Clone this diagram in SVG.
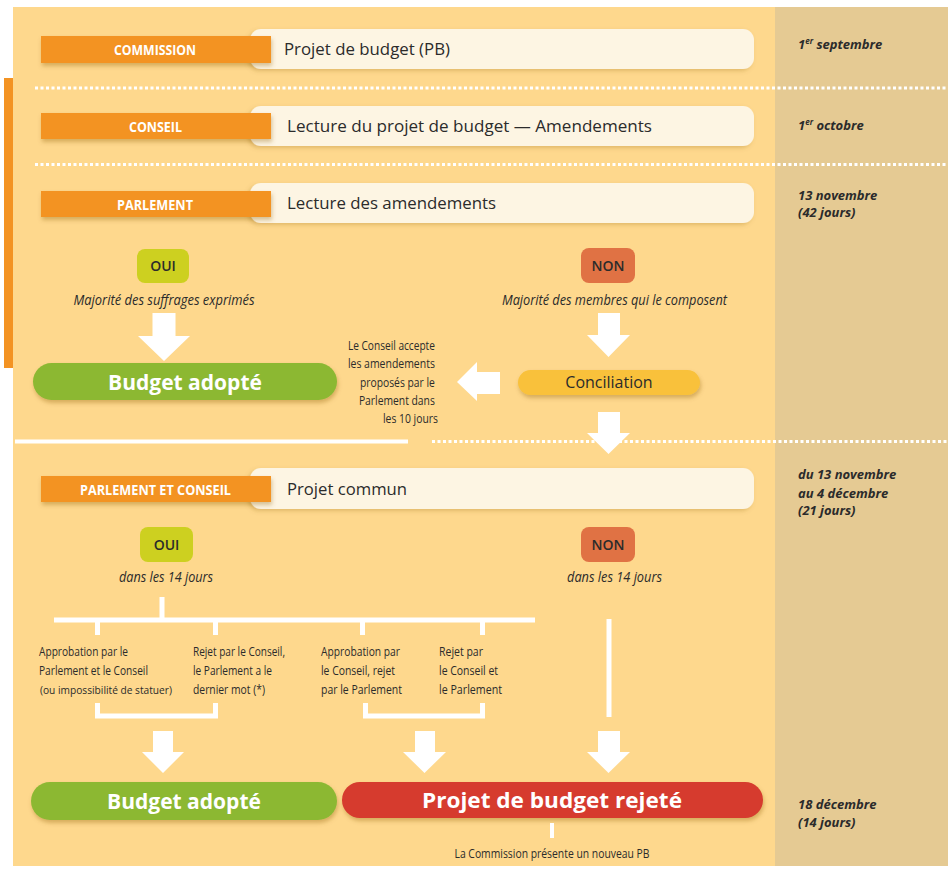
<svg xmlns="http://www.w3.org/2000/svg" width="948" height="870" viewBox="0 0 948 870">
<defs>
<filter id="sh" x="-10%" y="-30%" width="120%" height="180%">
<feDropShadow dx="1" dy="3" stdDeviation="2.2" flood-color="#8a5a10" flood-opacity="0.35"/>
</filter>
<filter id="sh2" x="-10%" y="-30%" width="120%" height="180%">
<feDropShadow dx="-2" dy="2" stdDeviation="2" flood-color="#8a5a10" flood-opacity="0.25"/>
</filter>
</defs>
<style>
.lab{fill:#F39323;filter:url(#sh)}
.labt{font-family:"Open Sans","Liberation Sans",sans-serif;font-weight:bold;font-size:15px;fill:#fff;text-anchor:middle}
.cream{fill:#FDF5E3;filter:url(#sh2)}
.ct{font-family:"Open Sans","Liberation Sans",sans-serif;font-size:16px;fill:#2b2b2b}
.date{font-family:"Open Sans","Liberation Sans",sans-serif;font-weight:bold;font-style:italic;font-size:13px;fill:#2b2b2b}
.note{font-family:"Open Sans","Liberation Sans",sans-serif;font-style:italic;font-size:14px;fill:#2b2b2b;text-anchor:middle}
.small{font-family:"Open Sans","Liberation Sans",sans-serif;font-size:12px;fill:#2b2b2b}
.yn{font-family:"Open Sans","Liberation Sans",sans-serif;font-size:14px;font-weight:600;fill:#2b2b2b;text-anchor:middle}
.big{font-family:"Open Sans","Liberation Sans",sans-serif;font-weight:bold;font-size:21px;fill:#fff;text-anchor:middle}
.dot{stroke:#fff;stroke-width:3;stroke-dasharray:3 2.5;fill:none}
.ln{stroke:#fff;stroke-width:5;fill:none}
.arr{fill:#fff}
.oui{fill:#CDD020}
.non{fill:#E07244}
</style>

<!-- background -->
<rect x="0" y="0" width="948" height="870" fill="#fff"/>
<rect x="13" y="7" width="762" height="859" fill="#FED88D"/>
<rect x="775" y="7" width="173" height="859" fill="#E5CA93"/>
<rect x="4" y="78" width="9" height="290" fill="#F39323"/>

<!-- separators -->
<g id="separators">
<line class="dot" x1="35" y1="88" x2="948" y2="88"/>
<line class="dot" x1="35" y1="164.5" x2="948" y2="164.5"/>
<line x1="15" y1="441.5" x2="408" y2="441.5" stroke="#fff" stroke-width="4"/>
<line class="dot" x1="432" y1="441.5" x2="948" y2="441.5"/>
</g>

<!-- rows -->
<g id="row-commission">
<rect class="cream" x="250" y="29" width="504" height="40" rx="11"/>
<rect class="lab" x="41" y="36" width="230" height="27"/>
<text class="labt" x="155" y="55" textLength="82" lengthAdjust="spacingAndGlyphs">COMMISSION</text>
<text class="ct" x="284" y="55" textLength="166" lengthAdjust="spacingAndGlyphs">Projet de budget (PB)</text>
</g>
<g id="row-conseil">
<rect class="cream" x="250" y="106" width="504" height="40" rx="11"/>
<rect class="lab" x="41" y="113" width="230" height="26"/>
<text class="labt" x="155.5" y="131.5" textLength="53" lengthAdjust="spacingAndGlyphs">CONSEIL</text>
<text class="ct" x="287" y="132" textLength="365" lengthAdjust="spacingAndGlyphs">Lecture du projet de budget — Amendements</text>
</g>
<g id="row-parlement">
<rect class="cream" x="250" y="183" width="504" height="40" rx="11"/>
<rect class="lab" x="41" y="191" width="230" height="26"/>
<text class="labt" x="155" y="209.5" textLength="76" lengthAdjust="spacingAndGlyphs">PARLEMENT</text>
<text class="ct" x="287" y="209" textLength="209" lengthAdjust="spacingAndGlyphs">Lecture des amendements</text>
</g>
<g id="row-parlement-conseil">
<rect class="cream" x="250" y="468" width="504" height="41" rx="11"/>
<rect class="lab" x="41" y="476" width="230" height="26"/>
<text class="labt" x="155.5" y="494.5" textLength="151" lengthAdjust="spacingAndGlyphs">PARLEMENT ET CONSEIL</text>
<text class="ct" x="287" y="495" textLength="120" lengthAdjust="spacingAndGlyphs">Projet commun</text>
</g>

<!-- dates -->
<g id="dates">
<text class="date" x="798" y="49">1<tspan font-size="8" dy="-5">er</tspan><tspan dy="5"> septembre</tspan></text>
<text class="date" x="798" y="130">1<tspan font-size="8" dy="-5">er</tspan><tspan dy="5"> octobre</tspan></text>
<text class="date" x="798" y="200">13 novembre</text>
<text class="date" x="798" y="217">(42 jours)</text>
<text class="date" x="798" y="479">du 13 novembre</text>
<text class="date" x="798" y="498">au 4 décembre</text>
<text class="date" x="798" y="515">(21 jours)</text>
<text class="date" x="798" y="809">18 décembre</text>
<text class="date" x="798" y="827">(14 jours)</text>
</g>

<!-- first vote -->
<g id="oui1">
<rect class="oui" x="137" y="249" width="52" height="34" rx="8"/>
<text class="yn" x="163" y="271">OUI</text>
<text class="note" x="164" y="305" textLength="181" lengthAdjust="spacingAndGlyphs">Majorité des suffrages exprimés</text>
</g>
<g id="non1">
<rect class="non" x="581" y="248" width="54" height="35" rx="8"/>
<text class="yn" x="608" y="271">NON</text>
<text class="note" x="614.5" y="305" textLength="225" lengthAdjust="spacingAndGlyphs">Majorité des membres qui le composent</text>
</g>
<g id="budget-adopte-1">
<rect x="33" y="363" width="304" height="37" rx="18.5" fill="#8CB833" filter="url(#sh)"/>
<text class="big" x="185" y="390">Budget adopté</text>
</g>
<g id="conciliation">
<rect x="518" y="370" width="182" height="25" rx="12.5" fill="#F9C13B" filter="url(#sh)"/>
<text class="ct" x="609" y="388" text-anchor="middle" font-size="15">Conciliation</text>
</g>
<g id="note-conseil">
<text class="small" text-anchor="end">
<tspan x="438" y="350" textLength="87" lengthAdjust="spacingAndGlyphs">Le Conseil accepte</tspan>
<tspan x="438" y="368" textLength="87" lengthAdjust="spacingAndGlyphs">les amendements</tspan>
<tspan x="438" y="387" textLength="75" lengthAdjust="spacingAndGlyphs">proposés par le</tspan>
<tspan x="438" y="405" textLength="76" lengthAdjust="spacingAndGlyphs">Parlement dans</tspan>
<tspan x="438" y="423" textLength="55" lengthAdjust="spacingAndGlyphs">les 10 jours</tspan>
</text>
</g>

<!-- second vote -->
<g id="oui2">
<rect class="oui" x="140" y="527" width="53" height="35" rx="8"/>
<text class="yn" x="166.5" y="550">OUI</text>
<text class="note" x="166" y="582" textLength="94" lengthAdjust="spacingAndGlyphs">dans les 14 jours</text>
</g>
<g id="non2">
<rect class="non" x="581" y="527" width="54" height="35" rx="8"/>
<text class="yn" x="608" y="550">NON</text>
<text class="note" x="614.5" y="582" textLength="95" lengthAdjust="spacingAndGlyphs">dans les 14 jours</text>
</g>
<g id="cas-1">
<text class="small">
<tspan x="39" y="656" textLength="89" lengthAdjust="spacingAndGlyphs">Approbation par le</tspan>
<tspan x="39" y="675" textLength="109" lengthAdjust="spacingAndGlyphs">Parlement et le Conseil</tspan>
<tspan x="40" y="694" font-size="11.5" textLength="132" lengthAdjust="spacingAndGlyphs">(ou impossibilité de statuer)</tspan>
</text>
</g>
<g id="cas-2">
<text class="small">
<tspan x="193" y="656" textLength="92" lengthAdjust="spacingAndGlyphs">Rejet par le Conseil,</tspan>
<tspan x="193" y="675" textLength="79" lengthAdjust="spacingAndGlyphs">le Parlement a le</tspan>
<tspan x="193" y="694" textLength="72" lengthAdjust="spacingAndGlyphs">dernier mot (*)</tspan>
</text>
</g>
<g id="cas-3">
<text class="small">
<tspan x="321" y="656" textLength="79" lengthAdjust="spacingAndGlyphs">Approbation par</tspan>
<tspan x="321" y="675" textLength="74" lengthAdjust="spacingAndGlyphs">le Conseil, rejet</tspan>
<tspan x="321" y="694" textLength="81" lengthAdjust="spacingAndGlyphs">par le Parlement</tspan>
</text>
</g>
<g id="cas-4">
<text class="small">
<tspan x="439" y="656" textLength="44" lengthAdjust="spacingAndGlyphs">Rejet par</tspan>
<tspan x="439" y="675" textLength="59" lengthAdjust="spacingAndGlyphs">le Conseil et</tspan>
<tspan x="439" y="694" textLength="63" lengthAdjust="spacingAndGlyphs">le Parlement</tspan>
</text>
</g>
<g id="budget-adopte-2">
<rect x="31" y="782" width="306" height="38" rx="19" fill="#8CB833" filter="url(#sh)"/>
<text class="big" x="184" y="809">Budget adopté</text>
</g>
<g id="budget-rejete">
<rect x="342" y="782" width="421" height="36" rx="18" fill="#D63A2D" filter="url(#sh)"/>
<text class="big" x="552" y="808" textLength="260" lengthAdjust="spacingAndGlyphs">Projet de budget rejeté</text>
</g>
<g id="nouveau-pb">
<text class="small" x="552" y="858" text-anchor="middle" textLength="195" lengthAdjust="spacingAndGlyphs">La Commission présente un nouveau PB</text>
</g>

<!-- connectors -->
<g id="connectors">
<polygon class="arr" points="152.5,313 175.5,313 175.5,336 190,336 164,361 138,336 152.5,336"/>
<polygon class="arr" points="598,313 620,313 620,335 630,335 608.5,357 587,335 598,335"/>
<polygon class="arr" points="500,372 500,394 477,394 477,401 457,382 477,362 477,372"/>
<polygon class="arr" points="598,412 620,412 620,433 630,433 608.5,454 587,433 598,433"/>
<path class="ln" d="M162,597 V620 M54,620 H535 M97.5,620 V635 M215.5,620 V635 M362.5,620 V635 M482.5,620 V635"/>
<path class="ln" d="M609,619 V717"/>
<path class="ln" d="M97.5,703 V716 H215.5 V703"/>
<path class="ln" d="M365.5,703 V716 H482.5 V703"/>
<polygon class="arr" points="153,731 173,731 173,752 184,752 163,773 142,752 153,752"/>
<polygon class="arr" points="415,731 435,731 435,752 446,752 424.5,773 403,752 415,752"/>
<polygon class="arr" points="598,731 620,731 620,752 630,752 608.5,773 587,752 598,752"/>
<path d="M552,823 V838" stroke="#fff" stroke-width="4"/>
</g>
</svg>
